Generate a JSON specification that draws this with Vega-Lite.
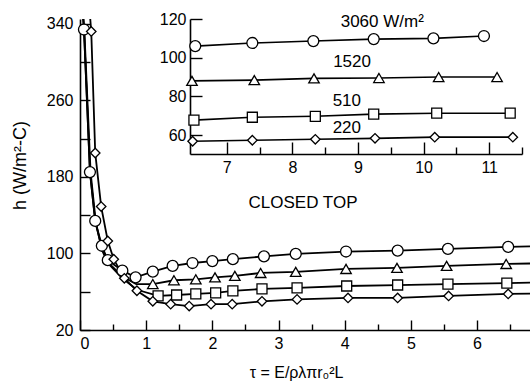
{
  "$schema": "https://vega.github.io/schema/vega-lite/v6.json",
  "width": 450,
  "height": 311,
  "autosize": "none",
  "padding": {"left": 80, "top": 19, "right": 0, "bottom": 56},
  "background": "white",
  "config": {
    "font": "Liberation Sans",
    "view": {"stroke": null},
    "axis": {"grid": false, "labelColor": "black", "domainColor": "black", "tickColor": "black", "titleColor": "black", "domainWidth": 1.6, "tickWidth": 1.4, "labelFontSize": 16, "labelFontWeight": "normal", "titleFontWeight": "normal"}
  },
  "datasets": {
    "main": [
      {"s": "3060", "x": 0.05, "h": 345, "m": 0},
      {"s": "3060", "x": 0.06, "h": 334, "m": 1},
      {"s": "3060", "x": 0.15, "h": 185, "m": 1},
      {"s": "3060", "x": 0.23, "h": 134, "m": 1},
      {"s": "3060", "x": 0.33, "h": 108, "m": 1},
      {"s": "3060", "x": 0.42, "h": 93, "m": 1},
      {"s": "3060", "x": 0.64, "h": 82, "m": 1},
      {"s": "3060", "x": 0.84, "h": 75, "m": 1},
      {"s": "3060", "x": 1.10, "h": 81, "m": 1},
      {"s": "3060", "x": 1.40, "h": 87, "m": 1},
      {"s": "3060", "x": 1.70, "h": 90, "m": 1},
      {"s": "3060", "x": 2.00, "h": 92, "m": 1},
      {"s": "3060", "x": 2.31, "h": 94, "m": 1},
      {"s": "3060", "x": 2.78, "h": 97, "m": 1},
      {"s": "3060", "x": 3.26, "h": 99.5, "m": 1},
      {"s": "3060", "x": 4.02, "h": 102, "m": 1},
      {"s": "3060", "x": 4.80, "h": 103, "m": 1},
      {"s": "3060", "x": 5.56, "h": 104.7, "m": 1},
      {"s": "3060", "x": 6.47, "h": 106.8, "m": 1},
      {"s": "3060", "x": 6.80, "h": 107.3, "m": 0},
      {"s": "1520", "x": 0.05, "h": 345, "m": 0},
      {"s": "1520", "x": 0.06, "h": 334, "m": 0},
      {"s": "1520", "x": 0.15, "h": 186, "m": 0},
      {"s": "1520", "x": 0.23, "h": 133, "m": 0},
      {"s": "1520", "x": 0.33, "h": 106, "m": 0},
      {"s": "1520", "x": 0.42, "h": 91, "m": 0},
      {"s": "1520", "x": 0.64, "h": 76, "m": 0},
      {"s": "1520", "x": 0.85, "h": 68, "m": 0},
      {"s": "1520", "x": 1.10, "h": 68, "m": 1},
      {"s": "1520", "x": 1.42, "h": 72, "m": 1},
      {"s": "1520", "x": 1.75, "h": 73, "m": 1},
      {"s": "1520", "x": 2.04, "h": 75, "m": 1},
      {"s": "1520", "x": 2.34, "h": 76.5, "m": 1},
      {"s": "1520", "x": 2.73, "h": 79.6, "m": 1},
      {"s": "1520", "x": 3.26, "h": 80.7, "m": 1},
      {"s": "1520", "x": 4.02, "h": 83.8, "m": 1},
      {"s": "1520", "x": 4.79, "h": 84.9, "m": 1},
      {"s": "1520", "x": 5.54, "h": 87, "m": 1},
      {"s": "1520", "x": 6.44, "h": 89, "m": 1},
      {"s": "1520", "x": 6.80, "h": 89.5, "m": 0},
      {"s": "510", "x": 0.05, "h": 345, "m": 0},
      {"s": "510", "x": 0.065, "h": 334, "m": 0},
      {"s": "510", "x": 0.16, "h": 185, "m": 0},
      {"s": "510", "x": 0.24, "h": 132, "m": 0},
      {"s": "510", "x": 0.33, "h": 104, "m": 0},
      {"s": "510", "x": 0.42, "h": 90, "m": 0},
      {"s": "510", "x": 0.64, "h": 74, "m": 0},
      {"s": "510", "x": 0.86, "h": 62, "m": 0},
      {"s": "510", "x": 1.18, "h": 55.6, "m": 1},
      {"s": "510", "x": 1.46, "h": 56.6, "m": 1},
      {"s": "510", "x": 1.75, "h": 57.7, "m": 1},
      {"s": "510", "x": 2.05, "h": 58.7, "m": 1},
      {"s": "510", "x": 2.31, "h": 60.8, "m": 1},
      {"s": "510", "x": 2.75, "h": 62.9, "m": 1},
      {"s": "510", "x": 3.28, "h": 64, "m": 1},
      {"s": "510", "x": 4.03, "h": 66, "m": 1},
      {"s": "510", "x": 4.80, "h": 67, "m": 1},
      {"s": "510", "x": 5.56, "h": 68, "m": 1},
      {"s": "510", "x": 6.45, "h": 69, "m": 1},
      {"s": "510", "x": 6.80, "h": 69.5, "m": 0},
      {"s": "220", "x": 0.155, "h": 345, "m": 0},
      {"s": "220", "x": 0.17, "h": 332, "m": 1},
      {"s": "220", "x": 0.23, "h": 205, "m": 1},
      {"s": "220", "x": 0.32, "h": 149, "m": 1},
      {"s": "220", "x": 0.42, "h": 113, "m": 1},
      {"s": "220", "x": 0.51, "h": 94, "m": 1},
      {"s": "220", "x": 0.67, "h": 74, "m": 1},
      {"s": "220", "x": 0.86, "h": 61, "m": 1},
      {"s": "220", "x": 1.10, "h": 50, "m": 1},
      {"s": "220", "x": 1.37, "h": 47, "m": 1},
      {"s": "220", "x": 1.65, "h": 45, "m": 1},
      {"s": "220", "x": 1.98, "h": 47, "m": 1},
      {"s": "220", "x": 2.30, "h": 47, "m": 1},
      {"s": "220", "x": 2.75, "h": 50, "m": 1},
      {"s": "220", "x": 3.28, "h": 52, "m": 1},
      {"s": "220", "x": 4.05, "h": 53.5, "m": 1},
      {"s": "220", "x": 4.80, "h": 53.5, "m": 1},
      {"s": "220", "x": 5.57, "h": 55.6, "m": 1},
      {"s": "220", "x": 6.47, "h": 57.7, "m": 1},
      {"s": "220", "x": 6.80, "h": 58, "m": 0}
    ],
    "inset": [
      {"s": "3060", "x": 6.52, "h": 106},
      {"s": "3060", "x": 7.39, "h": 107.6},
      {"s": "3060", "x": 8.32, "h": 108.6},
      {"s": "3060", "x": 9.24, "h": 109.6},
      {"s": "3060", "x": 10.15, "h": 110},
      {"s": "3060", "x": 10.92, "h": 111.2},
      {"s": "1520", "x": 6.47, "h": 88},
      {"s": "1520", "x": 7.42, "h": 88.4},
      {"s": "1520", "x": 8.33, "h": 89.3},
      {"s": "1520", "x": 9.32, "h": 89.5},
      {"s": "1520", "x": 10.23, "h": 90},
      {"s": "1520", "x": 11.12, "h": 90},
      {"s": "510", "x": 6.50, "h": 67.7},
      {"s": "510", "x": 7.39, "h": 69.2},
      {"s": "510", "x": 8.35, "h": 69.7},
      {"s": "510", "x": 9.24, "h": 70.8},
      {"s": "510", "x": 10.20, "h": 71.3},
      {"s": "510", "x": 11.32, "h": 71.3},
      {"s": "220", "x": 6.48, "h": 56.8},
      {"s": "220", "x": 7.39, "h": 57.3},
      {"s": "220", "x": 8.35, "h": 57.8},
      {"s": "220", "x": 9.26, "h": 58.3},
      {"s": "220", "x": 10.17, "h": 58.9},
      {"s": "220", "x": 11.36, "h": 58.9}
    ],
    "labels": [
      {"x": 9.37, "h": 118.4, "t": "3060 W/m²"},
      {"x": 8.91, "h": 97.7, "t": "1520"},
      {"x": 8.83, "h": 77.5, "t": "510"},
      {"x": 8.83, "h": 63.5, "t": "220"}
    ]
  },
  "layer": [
    {
      "data": {"name": "main"},
      "encoding": {
        "x": {
          "field": "x", "type": "quantitative",
          "scale": {"domain": [0, 6.8], "nice": false, "zero": false},
          "axis": {
            "orient": "bottom",
            "values": [0, 0.5, 1, 1.5, 2, 2.5, 3, 3.5, 4, 4.5, 5, 5.5, 6, 6.5],
            "labelExpr": "datum.value % 1 === 0 ? format(datum.value, 'd') : ''",
            "tickSize": {"condition": {"test": "datum.value % 1 === 0", "value": -10}, "value": -6},
            "labelPadding": 15,
            "title": "τ = E/ρλπr₀²L",
            "titleFontSize": 16,
            "titleX": 216, "titleY": 42, "titleAlign": "center", "titleBaseline": "middle"
          }
        },
        "y": {
          "field": "h", "type": "quantitative",
          "scale": {"domain": [20, 345], "nice": false, "zero": false},
          "axis": {
            "orient": "left",
            "values": [20, 60, 100, 140, 180, 220, 260, 300, 340],
            "labelExpr": "(datum.value - 20) % 80 === 0 ? format(datum.value, 'd') : ''",
            "tickSize": -10,
            "labelPadding": 17,
            "title": "h (W/m²-C)",
            "titleFontSize": 18,
            "titleX": -60, "titleY": 146, "titleAlign": "center", "titleBaseline": "middle"
          }
        }
      },
      "layer": [
        {"mark": {"type": "line", "color": "black", "strokeWidth": 1.8, "clip": true}, "encoding": {"detail": {"field": "s"}}},
        {
          "transform": [{"filter": "datum.m == 1"}],
          "mark": {"type": "point", "filled": true, "fill": "white", "stroke": "black", "strokeWidth": 1.3, "opacity": 1},
          "encoding": {
            "shape": {"field": "s", "type": "nominal", "scale": {"domain": ["3060", "1520", "510", "220"], "range": ["circle", "triangle-up", "square", "diamond"]}, "legend": null},
            "size": {"field": "s", "type": "nominal", "scale": {"domain": ["3060", "1520", "510", "220"], "range": [120, 90, 100, 90]}, "legend": null}
          }
        },
        {
          "data": {"values": [{"x": 3.37, "h": 153, "t": "CLOSED TOP"}]},
          "mark": {"type": "text", "fontSize": 17, "color": "black", "align": "center", "baseline": "middle"},
          "encoding": {"text": {"field": "t"}}
        }
      ]
    },
    {
      "encoding": {
        "x": {
          "field": "x", "type": "quantitative",
          "scale": {"domain": [6.44, 11.5], "range": [110, 442], "nice": false, "zero": false},
          "axis": {
            "orient": "bottom", "offset": -176,
            "values": [7, 7.5, 8, 8.5, 9, 9.5, 10, 10.5, 11, 11.5],
            "labelExpr": "datum.value % 1 === 0 ? format(datum.value, 'd') : ''",
            "tickSize": {"condition": {"test": "datum.value % 1 === 0", "value": -12}, "value": -7},
            "labelPadding": 17,
            "title": null
          }
        },
        "y": {
          "field": "h", "type": "quantitative",
          "scale": {"domain": [50.2, 120], "range": [135, 0], "nice": false, "zero": false},
          "axis": {
            "orient": "left", "offset": -110,
            "values": [60, 80, 100, 120],
            "format": "d",
            "tickSize": -12,
            "labelPadding": 16,
            "title": null
          }
        }
      },
      "layer": [
        {"data": {"name": "inset"}, "mark": {"type": "line", "color": "black", "strokeWidth": 1.6}, "encoding": {"detail": {"field": "s"}}},
        {
          "data": {"name": "inset"},
          "mark": {"type": "point", "filled": true, "fill": "white", "stroke": "black", "strokeWidth": 1.3, "opacity": 1},
          "encoding": {
            "shape": {"field": "s", "type": "nominal", "scale": {"domain": ["3060", "1520", "510", "220"], "range": ["circle", "triangle-up", "square", "diamond"]}, "legend": null},
            "size": {"field": "s", "type": "nominal", "scale": {"domain": ["3060", "1520", "510", "220"], "range": [100, 90, 85, 70]}, "legend": null}
          }
        },
        {
          "data": {"name": "labels"},
          "mark": {"type": "text", "fontSize": 17, "color": "black", "align": "center", "baseline": "middle"},
          "encoding": {"text": {"field": "t"}}
        }
      ]
    }
  ],
  "resolve": {"scale": {"x": "independent", "y": "independent"}, "axis": {"x": "independent", "y": "independent"}}
}
